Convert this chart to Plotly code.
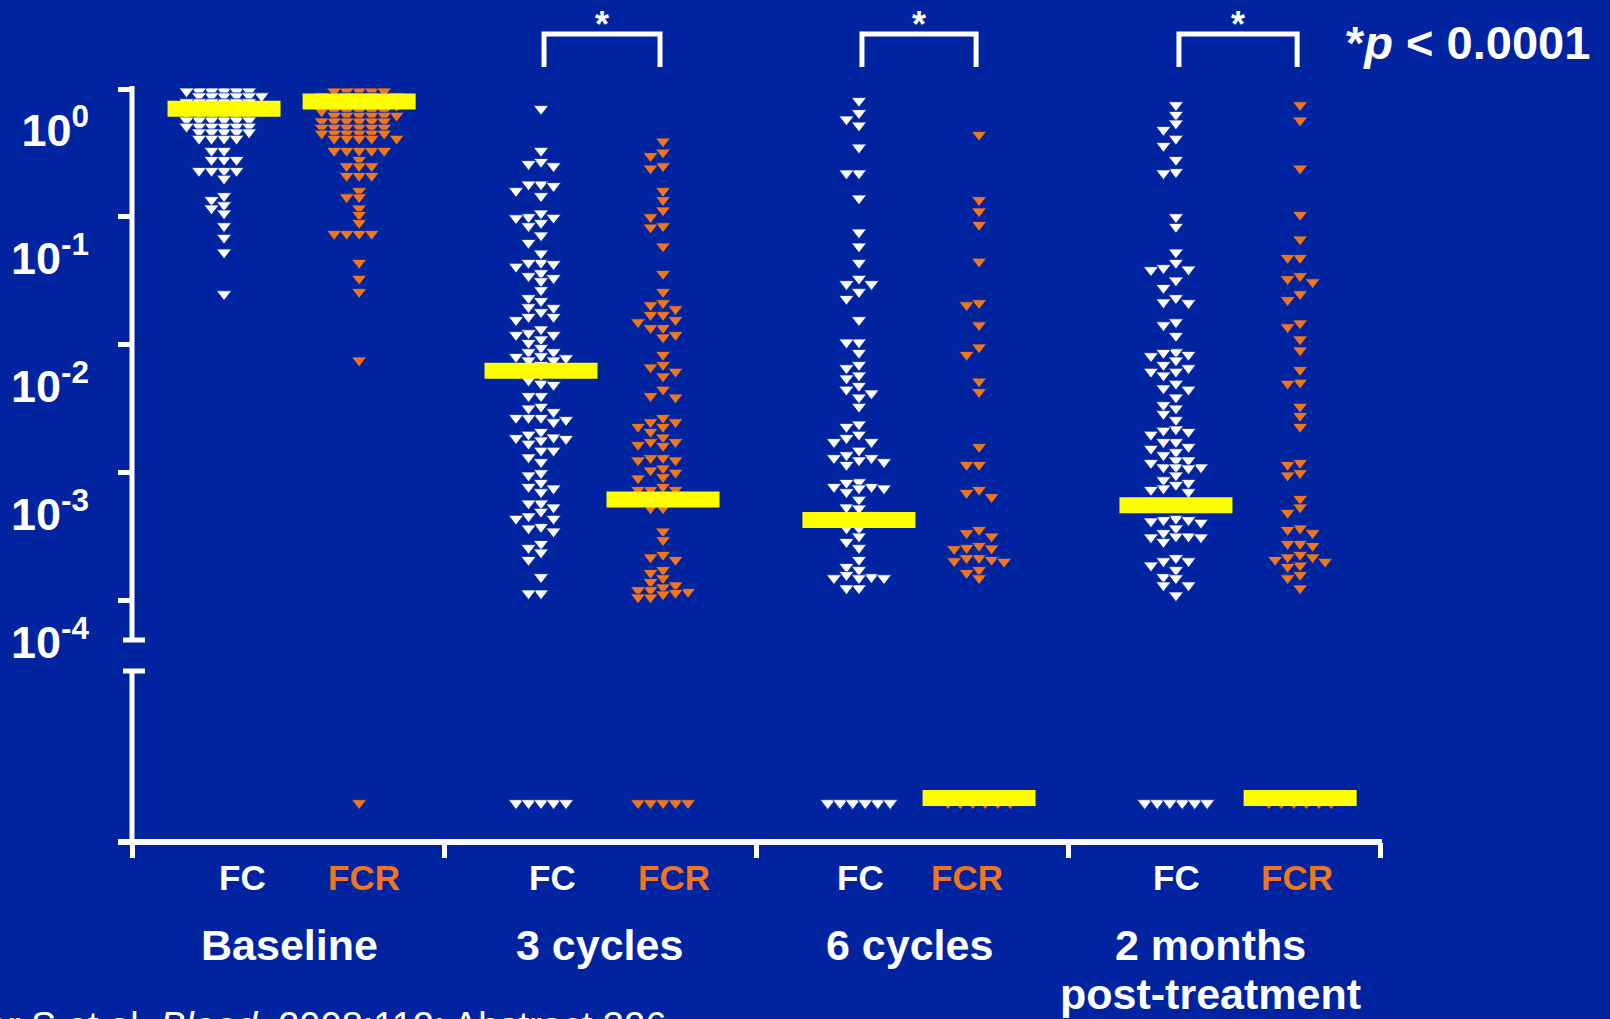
import numpy as np
import plotly.graph_objects as go

# ---------------- data ----------------
groups = ["Baseline", "3 cycles", "6 cycles", "2 months<br>post-treatment"]
arm_labels = ["FC", "FCR"]
y_tick_values = [1, 0.1, 0.01, 0.001, 0.0001]
y_tick_labels = ["10<sup>0</sup>", "10<sup>-1</sup>", "10<sup>-2</sup>", "10<sup>-3</sup>", "10<sup>-4</sup>"]
significance = ["", "*", "*", "*"]
p_note = "*<i>p</i> &lt; 0.0001"
citation = "Böttcher S et al. <i>Blood</i>. 2008;112: Abstract 326"

# MRD level (fraction); detectable values only
fc_baseline = [0.96, 0.96, 0.96, 0.96, 0.96, 0.96, 0.88, 0.88, 0.88, 0.88, 0.88, 0.88,
               0.79, 0.79, 0.79, 0.79, 0.79, 0.79, 0.71, 0.71, 0.71, 0.71, 0.71, 0.71,
               0.64, 0.64, 0.64, 0.64, 0.64, 0.64, 0.57, 0.57, 0.57, 0.57, 0.57, 0.57,
               0.51, 0.51, 0.51, 0.51, 0.51, 0.51, 0.46, 0.46, 0.46, 0.46, 0.46,
               0.41, 0.41, 0.41, 0.41, 0.33, 0.33, 0.28, 0.28, 0.28, 0.23, 0.23, 0.23, 0.23,
               0.20, 0.146, 0.136, 0.124, 0.117, 0.107, 0.085, 0.069, 0.053, 0.025]
fcr_baseline = [0.96, 0.96, 0.96, 0.96, 0.96, 0.88, 0.88, 0.88, 0.88, 0.88,
                0.81, 0.81, 0.81, 0.81, 0.81, 0.74, 0.74, 0.74, 0.74, 0.74, 0.74,
                0.67, 0.67, 0.67, 0.67, 0.67, 0.67, 0.62, 0.62, 0.62, 0.62, 0.62, 0.62,
                0.56, 0.56, 0.56, 0.56, 0.56, 0.56, 0.50, 0.50, 0.50, 0.50, 0.50, 0.50,
                0.45, 0.45, 0.45, 0.45, 0.45, 0.45, 0.41, 0.41, 0.41, 0.41, 0.41,
                0.33, 0.33, 0.33, 0.33, 0.33, 0.28, 0.25, 0.25, 0.25, 0.21, 0.21, 0.21,
                0.16, 0.143, 0.143, 0.117, 0.104, 0.090, 0.074, 0.074, 0.074, 0.074,
                0.044, 0.033, 0.026, 0.0076]
fc_3cycles = [0.70, 0.33, 0.27, 0.26, 0.25, 0.18, 0.18, 0.175, 0.16, 0.146, 0.107, 0.10,
              0.099, 0.098, 0.090, 0.085, 0.072, 0.063, 0.052, 0.044, 0.044, 0.043, 0.041,
              0.0365, 0.0346, 0.0334, 0.0316, 0.0269, 0.0233, 0.0221, 0.0198, 0.0195, 0.0181,
              0.0166, 0.0166, 0.0157, 0.0133, 0.0124, 0.0120, 0.0120, 0.0111, 0.0104, 0.0095,
              0.0088, 0.0088, 0.0082, 0.0081, 0.0079, 0.0076, 0.0076, 0.0070, 0.0064, 0.0058,
              0.0053, 0.0050, 0.0049, 0.0040, 0.0040, 0.0033, 0.0032, 0.0030, 0.0027, 0.0027,
              0.0027, 0.0026, 0.0025, 0.0021, 0.0020, 0.0019, 0.00188, 0.00185, 0.0018, 0.0017,
              0.0015, 0.0015, 0.00133, 0.00122, 0.0010, 0.00096, 0.00084, 0.00078, 0.00076,
              0.00071, 0.00058, 0.00058, 0.00054, 0.00050, 0.00046, 0.00044, 0.00044, 0.00038,
              0.00037, 0.00035, 0.00028, 0.00026, 0.00024, 0.00021, 0.000154, 0.000115, 0.000115]
fcr_3cycles = [0.39, 0.32, 0.30, 0.25, 0.24, 0.16, 0.136, 0.113, 0.10, 0.085, 0.083, 0.059,
               0.036, 0.026, 0.0213, 0.0205, 0.0191, 0.0172, 0.0172, 0.0157, 0.0151, 0.0136,
               0.0136, 0.0120, 0.0115, 0.0084, 0.0070, 0.0067, 0.0062, 0.0057, 0.0045, 0.0040,
               0.0039, 0.0027, 0.0025, 0.0025, 0.0023, 0.0023, 0.0021, 0.0019, 0.00175, 0.00175,
               0.00166, 0.00163, 0.00131, 0.00131, 0.00126, 0.00126, 0.00109, 0.00105, 0.00101,
               0.00093, 0.00091, 0.00078, 0.00074, 0.00074, 0.00074, 0.00067, 0.00062, 0.00053,
               0.00053, 0.00035, 0.00030, 0.00023, 0.00022, 0.00021, 0.000175, 0.000166,
               0.000151, 0.000141, 0.000133, 0.000128, 0.000122, 0.000122, 0.000118, 0.000116,
               0.000113, 0.000107, 0.000107]
fc_6cycles = [0.81, 0.65, 0.58, 0.52, 0.35, 0.22, 0.22, 0.14, 0.076, 0.059, 0.044, 0.033,
              0.030, 0.030, 0.026, 0.023, 0.0157, 0.0105, 0.0105, 0.0087, 0.0070, 0.0066,
              0.0058, 0.0055, 0.0048, 0.0045, 0.0042, 0.0039, 0.0033, 0.0024, 0.0023, 0.0020,
              0.00188, 0.00175, 0.00175, 0.0015, 0.00138, 0.00131, 0.00131, 0.00126, 0.00122,
              0.00116, 0.00085, 0.00084, 0.00078, 0.00078, 0.00076, 0.00076, 0.00071, 0.00062,
              0.00054, 0.00053, 0.00047, 0.00043, 0.00037, 0.00037, 0.00032, 0.00029, 0.00026,
              0.00021, 0.000185, 0.000175, 0.00016, 0.000154, 0.000151, 0.000151, 0.000151,
              0.000126, 0.000126]
fcr_6cycles = [0.44, 0.136, 0.111, 0.087, 0.045, 0.0213, 0.0205, 0.0143, 0.0096, 0.0084,
               0.0052, 0.0043, 0.0016, 0.00116, 0.00116, 0.00074, 0.00070, 0.00065, 0.00036,
               0.00034, 0.00032, 0.00027, 0.00026, 0.000258, 0.000255, 0.000217, 0.000217,
               0.00021, 0.000205, 0.000203, 0.000175, 0.000166, 0.000151]
fc_2months = [0.75, 0.63, 0.54, 0.48, 0.41, 0.36, 0.28, 0.225, 0.22, 0.10, 0.084, 0.053,
              0.044, 0.040, 0.039, 0.0385, 0.032, 0.028, 0.0233, 0.0216, 0.0213, 0.0151, 0.0143,
              0.0118, 0.0088, 0.0087, 0.0084, 0.0082, 0.0076, 0.0070, 0.0066, 0.0062, 0.0062,
              0.0058, 0.0050, 0.0046, 0.0045, 0.0039, 0.0034, 0.0032, 0.0029, 0.0026, 0.0022,
              0.00215, 0.0021, 0.0020, 0.00175, 0.00175, 0.0016, 0.00155, 0.00146, 0.00138,
              0.00126, 0.00126, 0.0012, 0.00111, 0.00111, 0.00111, 0.00109, 0.00096, 0.00088,
              0.00084, 0.00081, 0.00076, 0.00074, 0.00071, 0.00056, 0.00056, 0.00044, 0.00043,
              0.00043, 0.00042, 0.00041, 0.00037, 0.00034, 0.00032, 0.00032, 0.000315, 0.000315,
              0.00029, 0.000217, 0.000205, 0.000205, 0.00019, 0.000175, 0.000154, 0.000151,
              0.000133, 0.000133, 0.000111]
fcr_2months = [0.75, 0.57, 0.24, 0.104, 0.067, 0.048, 0.048, 0.0346, 0.0328, 0.031, 0.025,
               0.0225, 0.0148, 0.0138, 0.0111, 0.0091, 0.0064, 0.0051, 0.0050, 0.0033, 0.0028,
               0.0023, 0.0012, 0.00116, 0.0010, 0.00096, 0.00063, 0.00054, 0.00049, 0.00037,
               0.00036, 0.00034, 0.00028, 0.00028, 0.00027, 0.00023, 0.00022, 0.00022, 0.00021,
               0.000203, 0.00019, 0.000185, 0.00016, 0.000151, 0.000126]
fc_values = [fc_baseline, fc_3cycles, fc_6cycles, fc_2months]
fcr_values = [fcr_baseline, fcr_3cycles, fcr_6cycles, fcr_2months]
# number of patients with undetectable MRD (plotted on the broken lower axis)
fc_undetectable = [0, 5, 28, 45]
fcr_undetectable = [1, 5, 35, 40]
# medians (0 = undetectable)
fc_median = [0.70, 0.0063, 0.00043, 0.00056]
fcr_median = [0.80, 0.00062, 0, 0]

# ---------------- layout constants ----------------
W, H = 1610, 1019
L, R, T, B = 132, 230, 87, 177
PLOT_W, PLOT_H = W - L - R, H - T - B
X_RANGE = [0, 4]
Y_RANGE = [-5.883, 0.0156]          # log10 units
ZERO_LEVEL = -5.578                 # where undetectable values are drawn
PX_PER_X = PLOT_W / (X_RANGE[1] - X_RANGE[0])
PX_PER_DEC = PLOT_H / (Y_RANGE[1] - Y_RANGE[0])
FC_X = [0.295, 1.311, 2.330, 3.346]
FCR_X = [0.728, 1.702, 2.715, 3.744]
COL_W = 12.5          # px between swarm columns
BG = "#00249F"
WHITE = "#FFFFFF"
ORANGE = "#F0761E"
YELLOW = "#FFFF00"
FONT = "Liberation Sans, Arial, sans-serif"


def pxx(px):
    return (px - L) / PLOT_W


def pxy(py):
    return (H - B - py) / PLOT_H


def swarm(values, center, max_col, min_gap):
    logs = np.log10(np.array(values, dtype=float))
    order = np.argsort(-logs, kind="stable")
    cand = [0]
    for k in range(1, max_col + 1):
        cand += [-k, k]
    placed = {}
    xs = np.zeros(len(logs))
    for i in order:
        ypx = logs[i] * PX_PER_DEC
        choice, best_c, best_gap = None, 0, -1.0
        for c in cand:
            gap = min([abs(ypx - y) for y in placed.get(c, [])], default=1e9)
            if gap >= min_gap:
                choice = c
                break
            if gap > best_gap:
                best_gap, best_c = gap, c
        if choice is None:
            choice = best_c
        placed.setdefault(choice, []).append(ypx)
        xs[i] = center + choice * COL_W / PX_PER_X
    return xs, logs


def zero_row(n, center):
    """Undetectable values: one row, at most 6 columns, extra points stacked."""
    if n == 0:
        return np.array([])
    ncol = min(n, 6)
    cols = np.arange(n) % ncol
    return center + (cols - (ncol - 1) / 2) * COL_W / PX_PER_X


fig = go.Figure()
marker_common = dict(symbol="triangle-down", size=13)

for g in range(len(groups)):
    for vals, n0, cx, col in ((fc_values[g], fc_undetectable[g], FC_X[g], WHITE),
                              (fcr_values[g], fcr_undetectable[g], FCR_X[g], ORANGE)):
        max_col = 3 if g == 0 else 2
        gap = 5.5 if g == 0 else 8
        xs, ys = swarm(vals, cx, max_col, gap)
        zx = zero_row(n0, cx)
        fig.add_trace(go.Scatter(
            x=np.concatenate([xs, zx]),
            y=np.concatenate([ys, np.full(len(zx), ZERO_LEVEL)]),
            mode="markers", showlegend=False, hoverinfo="skip",
            marker=dict(color=col, line=dict(color=BG, width=0.8), **marker_common)))

# median bars
half = 56.5 / PX_PER_X
for g in range(len(groups)):
    for med, cx in ((fc_median[g], FC_X[g]), (fcr_median[g], FCR_X[g])):
        ym = np.log10(med) if med > 0 else ZERO_LEVEL + 5 / PX_PER_DEC
        fig.add_trace(go.Scatter(x=[cx - half, cx + half], y=[ym, ym], mode="lines",
                                 line=dict(color=YELLOW, width=16), showlegend=False,
                                 hoverinfo="skip"))

shapes = []
line_w = dict(color=WHITE, width=5)
# x axis line (extends left past the y axis)
shapes.append(dict(type="line", xref="paper", yref="paper", x0=pxx(118), x1=pxx(1382),
                   y0=pxy(842), y1=pxy(842), line=dict(color=WHITE, width=6)))
# broken y axis
shapes.append(dict(type="line", xref="paper", yref="paper", x0=pxx(132), x1=pxx(132),
                   y0=pxy(86), y1=pxy(640), line=line_w))
shapes.append(dict(type="line", xref="paper", yref="paper", x0=pxx(132), x1=pxx(132),
                   y0=pxy(671), y1=pxy(845), line=line_w))
for yb in (640, 671):
    shapes.append(dict(type="line", xref="paper", yref="paper", x0=pxx(123), x1=pxx(145),
                       y0=pxy(yb), y1=pxy(yb), line=line_w))
# significance brackets
annotations = []
for g in range(len(groups)):
    if significance[g]:
        x0, x1 = FC_X[g] + 3 / PX_PER_X, FCR_X[g] - 3 / PX_PER_X
        yt, yl = pxy(34), pxy(67)
        shapes.append(dict(type="path", xref="x", yref="paper",
                           path=f"M {x0},{yl} L {x0},{yt} L {x1},{yt} L {x1},{yl}",
                           line=dict(color=WHITE, width=5)))
        annotations.append(dict(x=(x0 + x1) / 2, y=pxy(24), xref="x", yref="paper",
                                text=significance[g], showarrow=False, yanchor="middle",
                                font=dict(family=FONT, size=36, color=WHITE, weight="bold")))

# category & group labels
FC_LABEL_X = [0.3535, 1.3474, 2.3349, 3.3484]
FCR_LABEL_X = [0.742, 1.736, 2.677, 3.7334]
GROUP_LABEL_X = [0.505, 1.499, 2.4927, 3.456]
LINE_Y = [945, 994]
for g in range(len(groups)):
    annotations.append(dict(x=FC_LABEL_X[g], y=pxy(877), xref="x", yref="paper",
                            text=arm_labels[0], showarrow=False, yanchor="middle",
                            font=dict(family=FONT, size=35, color=WHITE, weight="bold")))
    annotations.append(dict(x=FCR_LABEL_X[g], y=pxy(877), xref="x", yref="paper",
                            text=arm_labels[1], showarrow=False, yanchor="middle",
                            font=dict(family=FONT, size=35, color=ORANGE, weight="bold")))
    for k, line in enumerate(groups[g].split("<br>")):
        annotations.append(dict(x=GROUP_LABEL_X[g], y=pxy(LINE_Y[k]), xref="x", yref="paper",
                                text=line, showarrow=False, yanchor="middle",
                                font=dict(family=FONT, size=43, color=WHITE, weight="bold")))

annotations.append(dict(x=pxx(1344), y=pxy(43), xref="paper", yref="paper", text=p_note,
                        showarrow=False, xanchor="left", yanchor="middle",
                        font=dict(family=FONT, size=47, color=WHITE, weight="bold")))
annotations.append(dict(x=pxx(668), y=pxy(1003), xref="paper", yref="paper", text=citation,
                        showarrow=False, xanchor="right", yanchor="top",
                        font=dict(family=FONT, size=38, color=WHITE)))

fig.update_layout(
    width=W, height=H,
    margin=dict(l=L, r=R, t=T, b=B, pad=0),
    paper_bgcolor=BG, plot_bgcolor=BG,
    shapes=shapes, annotations=annotations,
    xaxis=dict(range=X_RANGE, showgrid=False, zeroline=False, showline=False,
               tickvals=[0, 1, 2, 3, 4], showticklabels=False, ticks="outside",
               ticklen=15, tickwidth=5, tickcolor=WHITE, fixedrange=True),
    yaxis=dict(range=Y_RANGE, showgrid=False, zeroline=False, showline=False,
               tickvals=list(np.log10(y_tick_values)), ticktext=y_tick_labels,
               ticks="outside", ticklen=13, tickwidth=5, tickcolor=WHITE,
               ticklabelshift=41, ticklabelstandoff=20,
               tickfont=dict(family=FONT, size=45, color=WHITE, weight="bold"),
               fixedrange=True),
)

fig.write_html("out.html")
